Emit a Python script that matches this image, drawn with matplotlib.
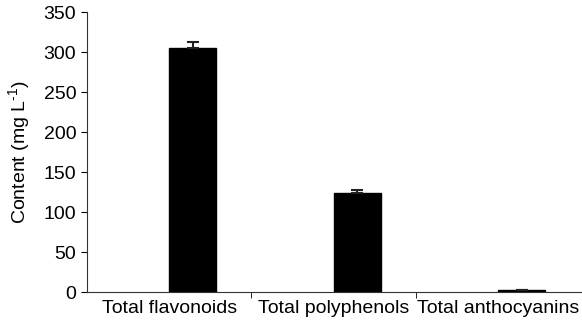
import matplotlib.pyplot as plt
import numpy as np

plt.rcParams['font.family'] = ['Liberation Sans', 'DejaVu Sans']
plt.rcParams['mathtext.fontset'] = 'custom'
plt.rcParams['mathtext.rm'] = 'Liberation Sans'

categories = ["Total flavonoids", "Total polyphenols", "Total anthocyanins"]
values = [305, 124, 2]
errors = [8, 4, 1]

fig = plt.figure(figsize=(5.82, 3.27), dpi=100)
ax = fig.add_axes([0.149, 0.107, 0.849, 0.856])

x = np.arange(len(categories))
w = 0.285
ax.bar(x, values, width=w, align='edge', color='black', edgecolor='black')
ax.errorbar(x + w / 2, values, yerr=[np.zeros(3), errors], fmt='none',
            ecolor='#222222', elinewidth=1.5, capsize=4, capthick=1.5)

ax.set_xlim(-0.5, 2.5)
ax.set_ylim(0, 350)
ax.set_yticks(range(0, 351, 50))
ax.set_xticks(x, categories)
ax.set_xticks([0.5, 1.5], minor=True)
ax.tick_params(axis='x', which='major', length=0, labelsize=14, pad=6)
ax.tick_params(axis='x', which='minor', length=4, direction='out')
ax.tick_params(axis='y', labelsize=14, length=4, direction='out')
ax.set_ylabel(r"Content (mg L$^{\text{-1}}$)", fontsize=14, labelpad=8)

for s in ['top', 'right']:
    ax.spines[s].set_visible(False)
for s in ['left', 'bottom']:
    ax.spines[s].set_color('#333333')

fig.savefig("out.png", dpi=100)
